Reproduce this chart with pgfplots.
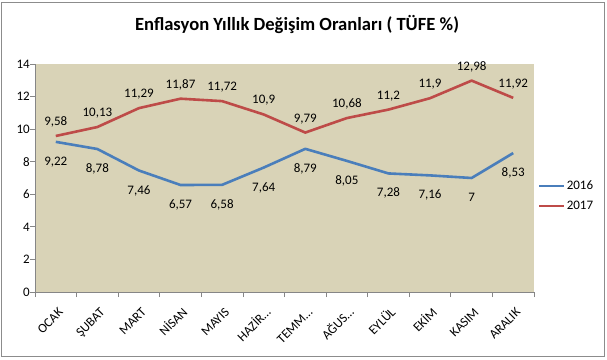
\documentclass[border=0pt]{standalone}
\usepackage{pgfplots}
\pgfplotsset{compat=1.18}
\usepackage{fontspec}
\setmainfont{Carlito}
\definecolor{bg}{RGB}{217,211,183}
\definecolor{sblue}{HTML}{4A7EBB}
\definecolor{sred}{HTML}{BE4B48}
\definecolor{axisgray}{HTML}{868686}
\definecolor{framegray}{HTML}{8C8C8C}
\begin{document}
\begin{tikzpicture}
\useasboundingbox (0,0) rectangle (607pt,359pt);
\draw[framegray, line width=1pt] (1pt,3pt) rectangle (604pt,356pt);
\node[font=\fontsize{18.6}{22}\selectfont\bfseries] at (297pt,334pt) {Enflasyon Yıllık Değişim Oranları ( TÜFE \%)};
\begin{axis}[
  at={(35pt,67pt)}, anchor=south west, scale only axis,
  width=499pt, height=228pt,
  xmin=-0.5, xmax=11.5, ymin=0, ymax=14,
  ytick={0,2,4,6,8,10,12,14},
  xtick={-0.5,0.5,1.5,2.5,3.5,4.5,5.5,6.5,7.5,8.5,9.5,10.5,11.5},
  x tick label as interval,
  xticklabels={OCAK,ŞUBAT,MART,NİSAN,MAYIS,HAZİR…,TEMM…,AĞUS…,EYLÜL,EKİM,KASIM,ARALIK},
  axis lines*=left,
  axis line style={axisgray, line width=0.8pt},
  tick style={axisgray, line width=0.8pt},
  tick align=outside, major tick length=5pt,
  axis background/.style={fill=bg},
  font=\fontsize{13}{15}\selectfont,
  /pgf/number format/assume math mode=true,
  /pgf/number format/use comma,
  /pgf/number format/precision=2,
  xticklabel style={xshift=8pt, yshift=-16pt, rotate=45, anchor=base east, inner sep=0pt},
  yticklabel style={anchor=east, inner sep=0pt},
  legend style={at={(1.008,0.421)}, anchor=west, draw=none, fill=none,
    font=\fontsize{13}{15}\selectfont, row sep=8pt, inner sep=0pt,
    nodes={inner sep=1pt}},
  legend cell align=left,
  legend image code/.code={\draw[#1] (0pt,0pt) -- (25pt,0pt);},
  nodes near coords={\pgfmathprintnumber{\pgfplotspointmeta}},
  point meta=y,
]
\addplot[sblue, line width=2.6pt, line join=round,
  every node near coord/.append style={anchor=base, inner sep=0pt, yshift=-23.5pt, text=black, font=\fontsize{13}{15}\selectfont}]
  coordinates {(0,9.22) (1,8.78) (2,7.46) (3,6.57) (4,6.58) (5,7.64) (6,8.79) (7,8.05) (8,7.28) (9,7.16) (10,7.00) (11,8.53)};
\addlegendentry{2016}
\addplot[sred, line width=2.6pt, line join=round,
  every node near coord/.append style={anchor=base, inner sep=0pt, yshift=10.5pt, text=black, font=\fontsize{13}{15}\selectfont}]
  coordinates {(0,9.58) (1,10.13) (2,11.29) (3,11.87) (4,11.72) (5,10.9) (6,9.79) (7,10.68) (8,11.2) (9,11.9) (10,12.98) (11,11.92)};
\addlegendentry{2017}
\end{axis}
\end{tikzpicture}
\end{document}
